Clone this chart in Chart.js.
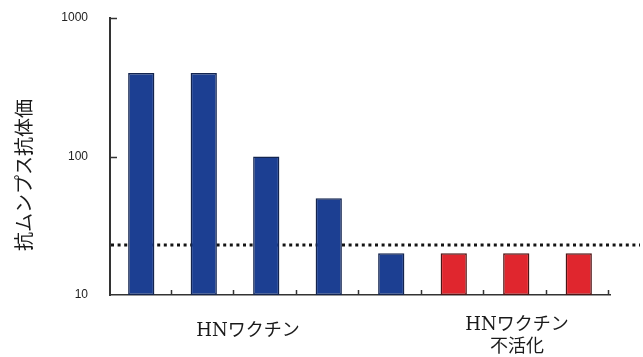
<!DOCTYPE html>
<html>
<head>
<meta charset="utf-8">
<script src="https://cdn.jsdelivr.net/npm/chart.js@4"></script>
<style>
  html, body { margin: 0; padding: 0; background: #ffffff; }
  #wrap { position: relative; width: 643px; height: 357px; }
</style>
</head>
<body>
<div id="wrap"><canvas id="c" width="643" height="357"></canvas></div>
<script>
// ---- data ----
const categories = ['1', '2', '3', '4', '5', '6', '7', '8'];
const titers = [400, 400, 100, 50, 20, 20, 20, 20];
const inactivated = [false, false, false, false, false, true, true, true];
const yTickValues = [10, 100, 1000];
const cutoffValue = 23;
const groupLabels = [['HNワクチン'], ['HNワクチン', '不活化']];
const yTitle = '抗ムンプス抗体価';

const BLUE = '#1c3f92', BLUE_EDGE = '#13244f';
const RED = '#e0262e', RED_EDGE = '#4d1414';

const decorations = {
  id: 'decorations',
  beforeDatasetsDraw(chart) {
    const { ctx, chartArea, scales } = chart;
    const y = scales.y.getPixelForValue(cutoffValue);
    ctx.save();
    ctx.strokeStyle = '#141414';
    ctx.lineWidth = 3;
    ctx.setLineDash([3, 3.6]);
    ctx.beginPath();
    ctx.moveTo(chartArea.left + 1, y);
    ctx.lineTo(chart.width - 3, y);
    ctx.stroke();
    ctx.restore();
  },
  afterDraw(chart) {
    const { ctx, chartArea, scales } = chart;
    ctx.save();
    ctx.strokeStyle = '#333';
    ctx.lineWidth = 1.5;
    // inward y ticks
    [1000, 100].forEach(v => {
      const py = Math.round(scales.y.getPixelForValue(v)) + 0.5;
      ctx.beginPath();
      ctx.moveTo(chartArea.left, py);
      ctx.lineTo(chartArea.left + 7, py);
      ctx.stroke();
    });
    // inward x ticks at category boundaries
    const n = categories.length;
    const w = (chartArea.right - chartArea.left) / n;
    for (let i = 1; i <= n; i++) {
      const px = Math.round(chartArea.left + i * w) - 1.5;
      ctx.beginPath();
      ctx.moveTo(px, chartArea.bottom);
      ctx.lineTo(px, chartArea.bottom - 5);
      ctx.stroke();
    }
    // group labels
    ctx.fillStyle = '#1a1a1a';
    ctx.font = "18px 'DejaVu Serif', 'Noto Sans CJK JP'";
    ctx.textAlign = 'center';
    ctx.textBaseline = 'middle';
    ctx.fillText(groupLabels[0][0], 248, 331);
    ctx.fillText(groupLabels[1][0], 517, 325);
    ctx.fillText(groupLabels[1][1], 517, 347);
    // y title
    ctx.save();
    ctx.translate(24, 175);
    ctx.rotate(-Math.PI / 2);
    ctx.font = "19px 'Noto Sans CJK JP'";
    ctx.fillText(yTitle, 0, 0);
    ctx.restore();
    ctx.restore();
  }
};

new Chart(document.getElementById('c'), {
  type: 'bar',
  data: {
    labels: categories,
    datasets: [{
      data: titers,
      backgroundColor: inactivated.map(f => f ? RED : BLUE),
      borderColor: inactivated.map(f => f ? RED_EDGE : BLUE_EDGE),
      borderWidth: 1.5,
      borderSkipped: false,
      barPercentage: 0.42,
      categoryPercentage: 1.0
    }]
  },
  options: {
    responsive: false,
    animation: false,
    events: [],
    layout: { padding: { left: 0, right: 33, top: 18, bottom: 0 } },
    plugins: { legend: { display: false }, tooltip: { enabled: false }, title: { display: false } },
    scales: {
      x: {
        type: 'category',
        offset: true,
        grid: { display: false, drawTicks: false },
        ticks: { display: false },
        border: { display: true, color: '#333', width: 1.5 },
        afterFit(s) { s.height = 62; s.paddingLeft = 0; s.paddingRight = 0; }
      },
      y: {
        type: 'logarithmic',
        min: 10,
        max: 1000,
        afterBuildTicks(s) { s.ticks = yTickValues.map(v => ({ value: v })); },
        grid: { display: false, drawTicks: false },
        border: { display: true, color: '#333', width: 2 },
        ticks: {
          padding: 22,
          color: '#222',
          font: { family: "'Liberation Sans', Arial, sans-serif", size: 12 },
          callback: v => String(v)
        },
        afterFit(s) { s.width = 110; s.paddingTop = 0; s.paddingBottom = 0; }
      }
    }
  },
  plugins: [decorations]
});
</script>
</body>
</html>
